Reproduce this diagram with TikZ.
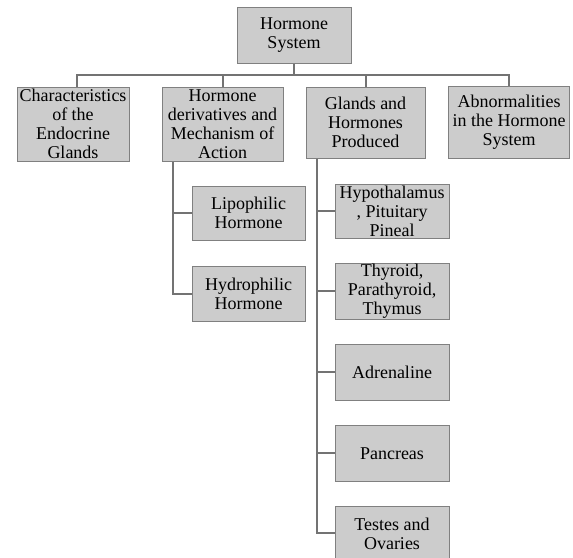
\documentclass[tikz,border=0pt]{standalone}
\usepackage{fontspec}
\setmainfont{Liberation Serif}
\usetikzlibrary{positioning}
\tikzset{
    %Define style for boxes
    hrmnode/.style={
             rectangle,
             draw=black!50, fill=black!20, line width=1pt,
             align=center, inner sep=1pt,
             font=\fontsize{18pt}{19pt}\selectfont},
    subnode/.style={
             hrmnode,
             minimum width=114pt, minimum height=56pt},
    % Define connector style
    hrmline/.style={
            draw=black!55,
            line width=2pt}
}
\begin{document}
\begin{tikzpicture}[x=1pt, y=1pt]
 \useasboundingbox (0,0) rectangle (573,-557);
 % top and first level
 \node[hrmnode, minimum width=114pt, minimum height=56pt] (system) at (294,-35) {Hormone\\System};
 \node[hrmnode, minimum width=112pt, minimum height=74pt] (charact) at (73,-124) {Characteristics\\of the\\Endocrine\\Glands};
 \node[hrmnode, minimum width=121pt, minimum height=74pt] (deriv) at (222.5,-124) {Hormone\\derivatives and\\Mechanism of\\Action};
 \node[hrmnode, minimum width=119pt, minimum height=71pt] (glands) at (365.5,-122.5) {Glands and\\Hormones\\Produced};
 \node[hrmnode, minimum width=121pt, minimum height=72pt] (abnorm) at (509,-122) {Abnormalities\\in the Hormone\\System};
 % hormone derivatives
 \node[subnode, minimum width=113pt, minimum height=54pt] (lipo) at (248.5,-213) {Lipophilic\\Hormone};
 \node[subnode, minimum width=113pt, minimum height=55pt, below=25pt of lipo] (hydro) {Hydrophilic\\Hormone};
 % glands
 \node[subnode, minimum height=54pt] (hypo) at (392,-211) {Hypothalamus\\, Pituitary\\Pineal};
 \node[subnode, below=24pt of hypo] (thyroid) {Thyroid,\\Parathyroid,\\Thymus};
 \node[subnode, below=24pt of thyroid] (adren) {Adrenaline};
 \node[subnode, below=24pt of adren] (pancr) {Pancreas};
 \node[subnode, minimum height=54pt, below=24pt of pancr] (testes) {Testes and\\Ovaries};
 \coordinate (bus) at (294,-75);
 \draw[hrmline] (system.south) -- (bus)
       ([xshift=4pt]charact.north) |- (bus)
       (deriv.north) |- (bus)
       (glands.north) |- (bus)
       (abnorm.north) |- (bus);
 \draw[hrmline] ([xshift=11pt]deriv.south west) |- (lipo.west)
       ([xshift=11pt]deriv.south west) |- (hydro.west);
 \draw[hrmline] ([xshift=11pt]glands.south west) |- (hypo.west)
       ([xshift=11pt]glands.south west) |- (thyroid.west)
       ([xshift=11pt]glands.south west) |- (adren.west)
       ([xshift=11pt]glands.south west) |- (pancr.west)
       ([xshift=11pt]glands.south west) |- (testes.west);
\end{tikzpicture}
\end{document}
